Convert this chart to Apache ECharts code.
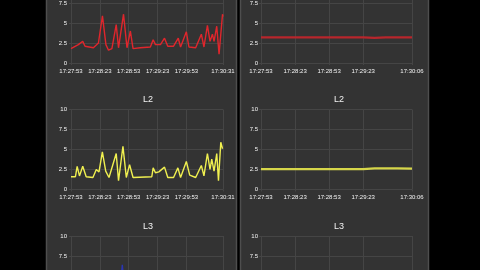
<!DOCTYPE html>
<html><head><meta charset="utf-8">
<script src="https://cdn.jsdelivr.net/npm/echarts@6/dist/echarts.min.js"></script>
<style>html,body{margin:0;padding:0;background:#000;overflow:hidden;width:480px;height:270px;}#c{position:absolute;left:0;top:-30px;width:480px;height:370px;}</style>
</head><body><div id="c"></div>
<script>
// Start time of both columns: 17:27:53 (seconds since midnight)
const startTime = 17*3600 + 27*60 + 53;
const titles = ['L1', 'L2', 'L3'];
const yTicks = [0, 2.5, 5, 7.5, 10];
const leftXTicks = [0, 30, 60, 90, 120, 158];
const rightXTicks = [0, 30, 60, 90, 133];

// Left column (seconds after start, value)
const l1LeftTimes  = [0, 7.6, 12.2, 14.6, 23.3, 28.5, 32.7, 36.3, 39, 42.5, 47, 49.4, 54.6, 58.2, 61.7, 64.5, 72, 82.5, 85.4, 87.8, 93, 97.2, 100.6, 106.6, 111.5, 113.9, 119.9, 122.6, 129.6, 135.5, 138.2, 141.8, 144.5, 147, 148.7, 151.5, 153.9, 157.5, 158];
const l1LeftValues = [1.8, 2.3, 2.7, 2.1, 1.9, 2.5, 5.9, 2.3, 1.6, 1.8, 4.8, 1.9, 6.1, 1.9, 4.0, 1.8, 1.9, 2.0, 2.9, 2.3, 2.3, 3.1, 2.1, 2.1, 3.1, 2.0, 3.9, 2.0, 1.9, 3.6, 2.0, 4.7, 2.7, 3.6, 2.7, 4.6, 1.1, 6.1, 5.8];
const l2LeftTimes  = [0, 4.6, 6.4, 8.8, 12.2, 15.8, 22.8, 26.3, 29.1, 32.6, 36.1, 39.5, 47, 49.4, 54.0, 57.5, 60.9, 64.5, 84.0, 85.4, 87.8, 91.3, 97.2, 100.6, 106.6, 111.1, 113.9, 119.9, 123.4, 129.6, 135.5, 138.2, 141.8, 144.5, 146.3, 148.7, 151.5, 153.3, 155.7, 157.5];
const l2LeftValues = [1.6, 1.6, 2.9, 1.7, 2.9, 1.6, 1.5, 2.5, 2.2, 4.7, 2.3, 1.5, 4.5, 1.1, 5.4, 1.5, 3.1, 1.5, 1.6, 2.7, 2.1, 2.2, 2.8, 1.5, 1.5, 2.7, 1.5, 3.5, 1.8, 1.5, 3.0, 1.7, 4.5, 2.5, 3.8, 2.3, 4.5, 1.1, 5.9, 5.1];
const l3LeftTimes  = [0, 12, 24, 32.6, 36, 40, 47, 49.5, 53.3, 57, 61, 64.5, 85, 98, 112, 120, 130, 136, 142, 147, 151.5, 154, 157.5];
const l3LeftValues = [1.7, 2.6, 1.6, 4.5, 1.8, 1.6, 4.3, 1.4, 6.4, 1.6, 3.0, 1.6, 2.5, 2.8, 2.6, 3.4, 1.6, 3.0, 4.2, 3.5, 4.4, 1.2, 5.5];

// Right column
const l1RightTimes  = [0, 15, 30, 45, 60, 75, 90, 100, 110, 120, 133];
const l1RightValues = [3.2, 3.2, 3.2, 3.2, 3.2, 3.2, 3.2, 3.15, 3.2, 3.2, 3.2];
const l2RightTimes  = [0, 15, 30, 45, 60, 75, 90, 100, 110, 120, 133];
const l2RightValues = [2.55, 2.55, 2.55, 2.55, 2.55, 2.55, 2.55, 2.65, 2.65, 2.65, 2.6];
const l3RightTimes  = [0, 30, 60, 90, 133];
const l3RightValues = [2.4, 2.4, 2.4, 2.4, 2.4];

const leftColors  = ['#e0262c', '#f0f050', '#2a35b0'];
const rightColors = ['#b8262c', '#d6d64a', '#2a35b0'];

function pad(n){ return (n < 10 ? '0' : '') + n; }
function fmtTime(s){
  const t = Math.round(startTime + s);
  return pad(Math.floor(t/3600)) + ':' + pad(Math.floor(t/60)%60) + ':' + pad(t%60);
}
function nearest(list, v){
  let best = list[0];
  list.forEach(x => { if (Math.abs(x - v) < Math.abs(best - v)) best = x; });
  return best;
}
function zip(ts, vs){ return ts.map((t,i)=>[t, vs[i]]); }

const leftSeries  = [zip(l1LeftTimes, l1LeftValues), zip(l2LeftTimes, l2LeftValues), zip(l3LeftTimes, l3LeftValues)];
const rightSeries = [zip(l1RightTimes, l1RightValues), zip(l2RightTimes, l2RightValues), zip(l3RightTimes, l3RightValues)];

const offsetY = 30;          // container is shifted up by this much
const rowPitch = 126.5;
const firstTop = -17 + offsetY;
const gridH = 80;
const labelStyle = {color:'#f4f4f4', fontSize:6, fontFamily:'Liberation Sans, Arial, sans-serif'};
const lineColor = '#454545';

const grids = [], xAxes = [], yAxes = [], series = [], titleArr = [];
for (let col = 0; col < 2; col++) {
  for (let row = 0; row < 3; row++) {
    const idx = grids.length;
    const top = firstTop + row*rowPitch;
    const left = col === 0 ? 71 : 261;
    const width = col === 0 ? 152 : 151;
    grids.push({left:left, top:top, width:width, height:gridH, containLabel:false});
    const xt = col === 0 ? leftXTicks : rightXTicks;
    xAxes.push({
      type:'value', gridIndex:idx, min:0, max:xt[xt.length-1],
      axisLine:{show:false},
      axisTick:{show:true, customValues: xt, length:2, lineStyle:{color:lineColor}},
      splitLine:{show:true, lineStyle:{color:lineColor, width:1}},
      axisLabel:Object.assign({customValues: xt, margin:5, formatter:(v)=>fmtTime(nearest(xt, v)), showMinLabel:true, showMaxLabel:true, hideOverlap:false}, labelStyle)
    });
    yAxes.push({
      type:'value', gridIndex:idx, min:0, max:10, interval:2.5,
      axisLine:{show:false}, axisTick:{show:true, length:2, lineStyle:{color:lineColor}},
      splitLine:{show:true, lineStyle:{color:lineColor, width:1}},
      axisLabel:Object.assign({margin: col===0 ? 4 : 3, formatter:(v)=>String(v)}, labelStyle)
    });
    series.push({
      type:'line', xAxisIndex:idx, yAxisIndex:idx,
      data: col === 0 ? leftSeries[row] : rightSeries[row],
      showSymbol:false, symbol:'none', animation:false,
      lineStyle:{color: col===0 ? leftColors[row] : rightColors[row], width: col===0 ? 1.4 : 2.2},
      itemStyle:{color: col===0 ? leftColors[row] : rightColors[row]}
    });
    if (row > 0) {
      titleArr.push({text: titles[row], left: (col===0 ? 143 : 334), top: top - 19, textAlign:'center',
        textStyle:{color:'#f2f2f2', fontSize:9, fontWeight:'normal', fontFamily:'Liberation Sans, Arial, sans-serif'}});
    }
  }
}

const chart = echarts.init(document.getElementById('c'), null, {renderer:'canvas'});
chart.setOption({
  backgroundColor:'#000000',
  animation:false,
  title: titleArr,
  grid: grids, xAxis: xAxes, yAxis: yAxes, series: series,
  graphic: [
    {type:'rect', z:-100, shape:{x:46.5, y:0, width:190, height:370}, style:{fill:'#333333', stroke:'#4e4e4e', lineWidth:1.5}},
    {type:'rect', z:-100, shape:{x:240.5, y:0, width:188, height:370}, style:{fill:'#333333', stroke:'#4e4e4e', lineWidth:1.5}}
  ]
});
</script></body></html>
